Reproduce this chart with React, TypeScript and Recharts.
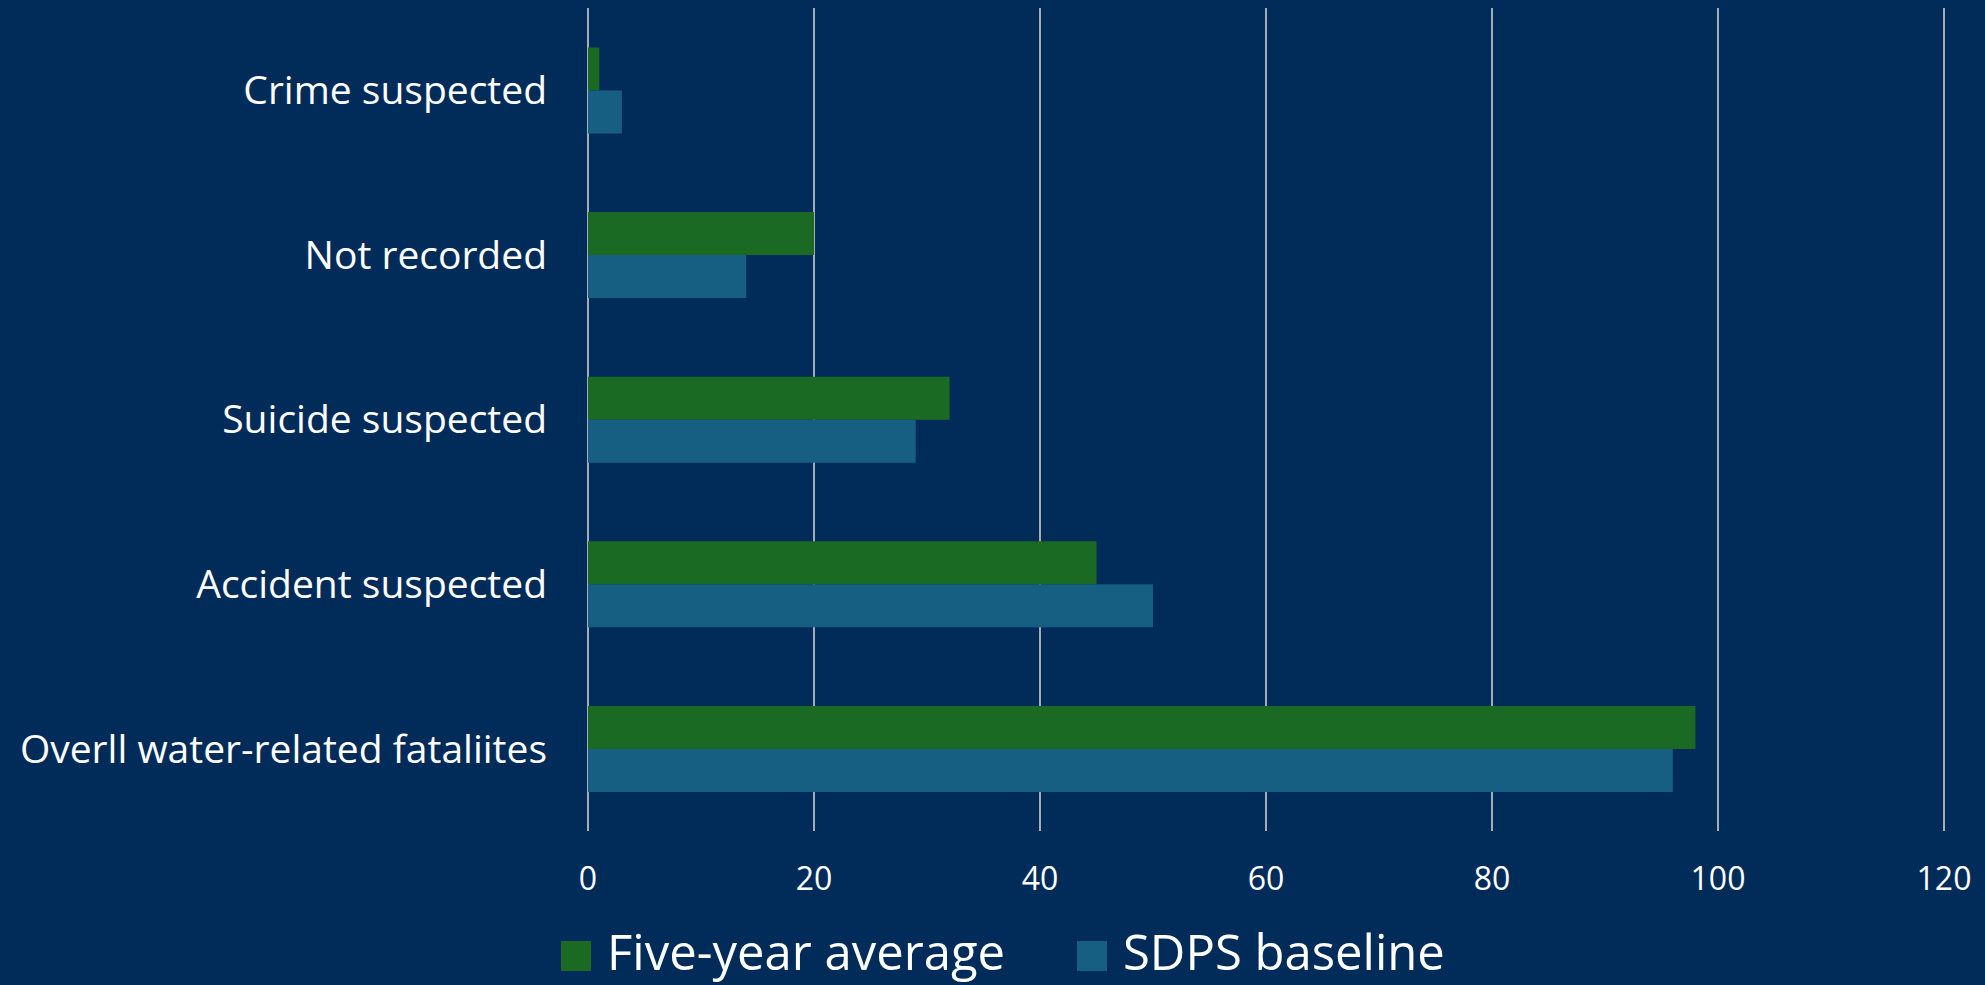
import { BarChart, Bar, XAxis, YAxis, CartesianGrid, Legend } from "recharts";

const categories = [
  "Crime suspected",
  "Not recorded",
  "Suicide suspected",
  "Accident suspected",
  "Overll water-related fataliites",
];
const fiveYearAverage = [1, 20, 32, 45, 98];
const sdpsBaseline = [3, 14, 29, 50, 96];
const xTicks = [0, 20, 40, 60, 80, 100, 120];

const seriesInfo = [
  { key: "fiveYear", label: "Five-year average", color: "#1b6a23" },
  { key: "sdps", label: "SDPS baseline", color: "#165f82" },
];

const data = categories.map((name, i) => ({
  name,
  fiveYear: fiveYearAverage[i],
  sdps: sdpsBaseline[i],
}));

const FONT = "'Open Sans', sans-serif";
// left edge of each legend item (square), page px
const legendLeft = [561, 1077];

function LegendRow() {
  return (
    <div style={{ position: "relative", height: 50, fontFamily: FONT }}>
      {seriesInfo.map((s, i) => (
        <div key={s.key} style={{ position: "absolute", left: legendLeft[i], top: 0, display: "flex", alignItems: "flex-start", whiteSpace: "nowrap" }}>
          <span style={{ width: 30, height: 30, background: s.color, display: "inline-block", marginTop: 15, marginRight: 16 }} />
          <span style={{ color: "#ffffff", fontSize: 49, lineHeight: "50px" }}>{s.label}</span>
        </div>
      ))}
    </div>
  );
}

export default function App() {
  return (
    <div style={{ position: "absolute", left: 0, top: 0, width: 1985, height: 985, background: "#012c5a", overflow: "hidden" }}>
      <BarChart
        width={1985}
        height={985}
        data={data}
        layout="vertical"
        margin={{ top: 8, right: 41, bottom: 0, left: 0 }}
        barCategoryGap="24%"
        barGap={0}
      >
        <CartesianGrid horizontal={false} stroke="#d9d9d9" strokeWidth={1.5} />
        <XAxis
          type="number"
          domain={[0, 120]}
          ticks={xTicks}
          interval={0}
          height={104}
          axisLine={false}
          tickLine={false}
          tickSize={0}
          tickMargin={36}
          tick={{ fill: "#ffffff", fontSize: 32, fontFamily: FONT }}
        />
        <YAxis
          type="category"
          dataKey="name"
          width={588}
          axisLine={false}
          tickLine={false}
          tickSize={0}
          tickMargin={41}
          tick={{ fill: "#ffffff", fontSize: 39, fontFamily: FONT }}
        />
        <Legend
          verticalAlign="bottom"
          wrapperStyle={{ top: 926, bottom: "auto", left: 0, width: 1985, height: 50 }}
          content={() => <LegendRow />}
        />
        {seriesInfo.map((s) => (
          <Bar key={s.key} dataKey={s.key} name={s.label} fill={s.color} isAnimationActive={false} />
        ))}
      </BarChart>
    </div>
  );
}
